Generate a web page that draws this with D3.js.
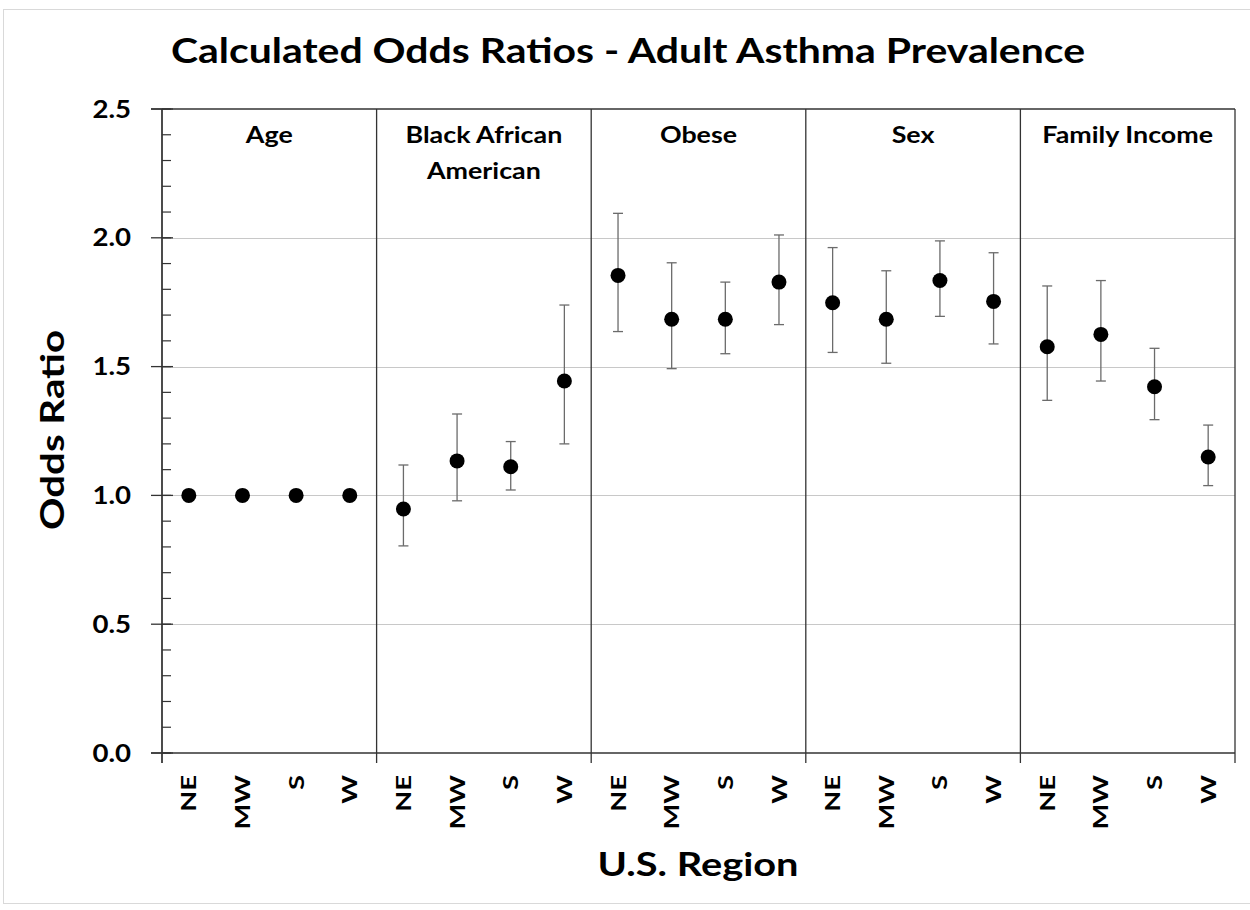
<!doctype html>
<html lang="en">
<head>
    <meta charset="UTF-8">
    <script src="https://d3js.org/d3.v7.min.js"></script>
    <title>Calculated Odds Ratios - Adult Asthma Prevalence</title>
    <style>
        body { margin: 0; background: #fff; }
        text { font-family: Lato, "Open Sans", sans-serif; font-weight: bold; fill: #000; }
    </style>
</head>
<body>
<div id="chart"></div>
<script>
    // data
    var groups = ["Age", "Black African American", "Obese", "Sex", "Family Income"];
    var groupLines = [["Age"], ["Black African", "American"], ["Obese"], ["Sex"], ["Family Income"]];
    var regions = ["NE", "MW", "S", "W"];
    var odds = [1.0, 1.0, 1.0, 1.0,
        0.947, 1.134, 1.111, 1.444,
        1.854, 1.684, 1.684, 1.828,
        1.748, 1.684, 1.834, 1.753,
        1.577, 1.625, 1.422, 1.149];
    var upper = [null, null, null, null,
        1.118, 1.316, 1.209, 1.739,
        2.095, 1.903, 1.828, 2.011,
        1.962, 1.872, 1.988, 1.942,
        1.813, 1.834, 1.571, 1.273];
    var lower = [null, null, null, null,
        0.804, 0.979, 1.021, 1.200,
        1.636, 1.492, 1.550, 1.663,
        1.555, 1.513, 1.695, 1.588,
        1.369, 1.444, 1.294, 1.038];
    var yTicks = [0, 0.5, 1.0, 1.5, 2.0, 2.5];

    var data = odds.map(function (v, i) {
        return {key: i, group: Math.floor(i / 4), region: regions[i % 4], value: v, hi: upper[i], lo: lower[i]};
    });

    // widen text a bit, the original font is drawn wider than Lato
    function stretch(sel, k) {
        sel.each(function () {
            var len = this.getComputedTextLength();
            d3.select(this).attr("textLength", len * k).attr("lengthAdjust", "spacingAndGlyphs");
        });
    }

    var W = 1250, H = 910;
    var margin = {top: 109, right: 15, bottom: 157, left: 162};
    var width = W - margin.left - margin.right,
        height = H - margin.top - margin.bottom;

    var svg = d3.select("#chart").append("svg")
        .attr("width", W).attr("height", H);

    // outer chart border
    svg.append("rect")
        .attr("x", 3.5).attr("y", 9.5).attr("width", 1260).attr("height", 894)
        .attr("fill", "none").attr("stroke", "#d9d9d9");

    var g = svg.append("g")
        .attr("transform", "translate(" + margin.left + "," + margin.top + ")");

    var x = d3.scaleBand().domain(d3.range(odds.length)).range([0, width]).padding(0);
    var xg = d3.scaleBand().domain(d3.range(groups.length)).range([0, width]).padding(0);
    var y = d3.scaleLinear().domain([0, 2.5]).range([height, 0]);

    // gridlines
    g.append("g").selectAll("line")
        .data(yTicks.filter(function (t) { return t > 0 && t < 2.5; }))
        .enter().append("line")
        .attr("x1", 0).attr("x2", width)
        .attr("y1", function (d) { return Math.round(y(d)) + 0.5; })
        .attr("y2", function (d) { return Math.round(y(d)) + 0.5; })
        .attr("stroke", "#c8c8c8").attr("stroke-width", 1.2);

    // group dividers (extend below axis like ticks)
    g.append("g").selectAll("line")
        .data(d3.range(groups.length + 1))
        .enter().append("line")
        .attr("x1", function (d) { return d < groups.length ? xg(d) : width; })
        .attr("x2", function (d) { return d < groups.length ? xg(d) : width; })
        .attr("y1", 0).attr("y2", height + 10)
        .attr("stroke", "#333").attr("stroke-width", 1.3);

    // top and bottom border
    g.append("line").attr("x1", -11).attr("x2", width).attr("y1", 0).attr("y2", 0)
        .attr("stroke", "#333").attr("stroke-width", 1.3);
    g.append("line").attr("x1", -11).attr("x2", width).attr("y1", height).attr("y2", height)
        .attr("stroke", "#333").attr("stroke-width", 1.3);

    // y axis: major ticks cross, minor inside
    var yAxis = g.append("g");
    yAxis.selectAll(".minor")
        .data(d3.range(0, 26).map(function (i) { return i / 10; }))
        .enter().append("line")
        .attr("x1", 0).attr("x2", 9)
        .attr("y1", function (d) { return y(d); }).attr("y2", function (d) { return y(d); })
        .attr("stroke", "#333").attr("stroke-width", 1.2);
    yAxis.selectAll(".major")
        .data(yTicks).enter().append("line")
        .attr("x1", -11).attr("x2", 11)
        .attr("y1", function (d) { return y(d); }).attr("y2", function (d) { return y(d); })
        .attr("stroke", "#333").attr("stroke-width", 1.3);
    yAxis.selectAll("text")
        .data(yTicks).enter().append("text")
        .attr("x", -31).attr("y", function (d) { return y(d); })
        .attr("dy", "0.36em").attr("text-anchor", "end")
        .style("font-size", "24px")
        .text(function (d) { return d.toFixed(1); })
        .call(stretch, 1.15);
    yAxis.append("line").attr("x1", 0).attr("x2", 0).attr("y1", 0).attr("y2", height + 10)
        .attr("stroke", "#333").attr("stroke-width", 1.3);

    // x tick labels (rotated)
    g.append("g").selectAll("text")
        .data(data).enter().append("text")
        .attr("transform", function (d) {
            return "translate(" + (x(d.key) + x.bandwidth() / 2) + "," + (height + 22) + ") rotate(-90)";
        })
        .attr("dy", "0.36em").attr("text-anchor", "end")
        .style("font-size", "21px")
        .text(function (d) { return d.region; })
        .call(stretch, 1.3);

    // group labels
    var gl = g.append("g").selectAll("text")
        .data(groupLines).enter().append("text")
        .attr("x", function (d, i) { return xg(i) + xg.bandwidth() / 2; })
        .attr("y", 34).attr("text-anchor", "middle")
        .style("font-size", "22px");
    gl.selectAll("tspan")
        .data(function (d) { return d; })
        .enter().append("tspan")
        .attr("x", function () { return d3.select(this.parentNode).attr("x"); })
        .attr("dy", function (d, i) { return i === 0 ? 0 : 36; })
        .text(function (d) { return d; })
        .call(stretch, 1.22);

    // error bars
    var eb = g.append("g").selectAll("g")
        .data(data.filter(function (d) { return d.hi !== null; }))
        .enter().append("g")
        .attr("stroke", "#6b6b6b").attr("stroke-width", 1.3);
    eb.append("line")
        .attr("x1", function (d) { return x(d.key) + x.bandwidth() / 2; })
        .attr("x2", function (d) { return x(d.key) + x.bandwidth() / 2; })
        .attr("y1", function (d) { return y(d.hi); })
        .attr("y2", function (d) { return y(d.lo); });
    ["hi", "lo"].forEach(function (k) {
        eb.append("line")
            .attr("x1", function (d) { return x(d.key) + x.bandwidth() / 2 - 5; })
            .attr("x2", function (d) { return x(d.key) + x.bandwidth() / 2 + 5; })
            .attr("y1", function (d) { return y(d[k]); })
            .attr("y2", function (d) { return y(d[k]); });
    });

    // points
    g.append("g").selectAll("circle")
        .data(data).enter().append("circle")
        .attr("cx", function (d) { return x(d.key) + x.bandwidth() / 2; })
        .attr("cy", function (d) { return y(d.value); })
        .attr("r", 7.5)
        .attr("fill", "#000");

    // titles
    svg.append("text")
        .attr("x", 628).attr("y", 63).attr("text-anchor", "middle")
        .style("font-size", "35px")
        .text("Calculated Odds Ratios - Adult Asthma Prevalence")
        .attr("textLength", 914).attr("lengthAdjust", "spacingAndGlyphs");
    svg.append("text")
        .attr("x", 698).attr("y", 876).attr("text-anchor", "middle")
        .style("font-size", "33px")
        .text("U.S. Region")
        .attr("textLength", 201).attr("lengthAdjust", "spacingAndGlyphs");
    svg.append("text")
        .attr("transform", "translate(64,430) rotate(-90)")
        .attr("text-anchor", "middle")
        .style("font-size", "32px")
        .text("Odds Ratio")
        .attr("textLength", 200).attr("lengthAdjust", "spacingAndGlyphs");
</script>
</body>
</html>
